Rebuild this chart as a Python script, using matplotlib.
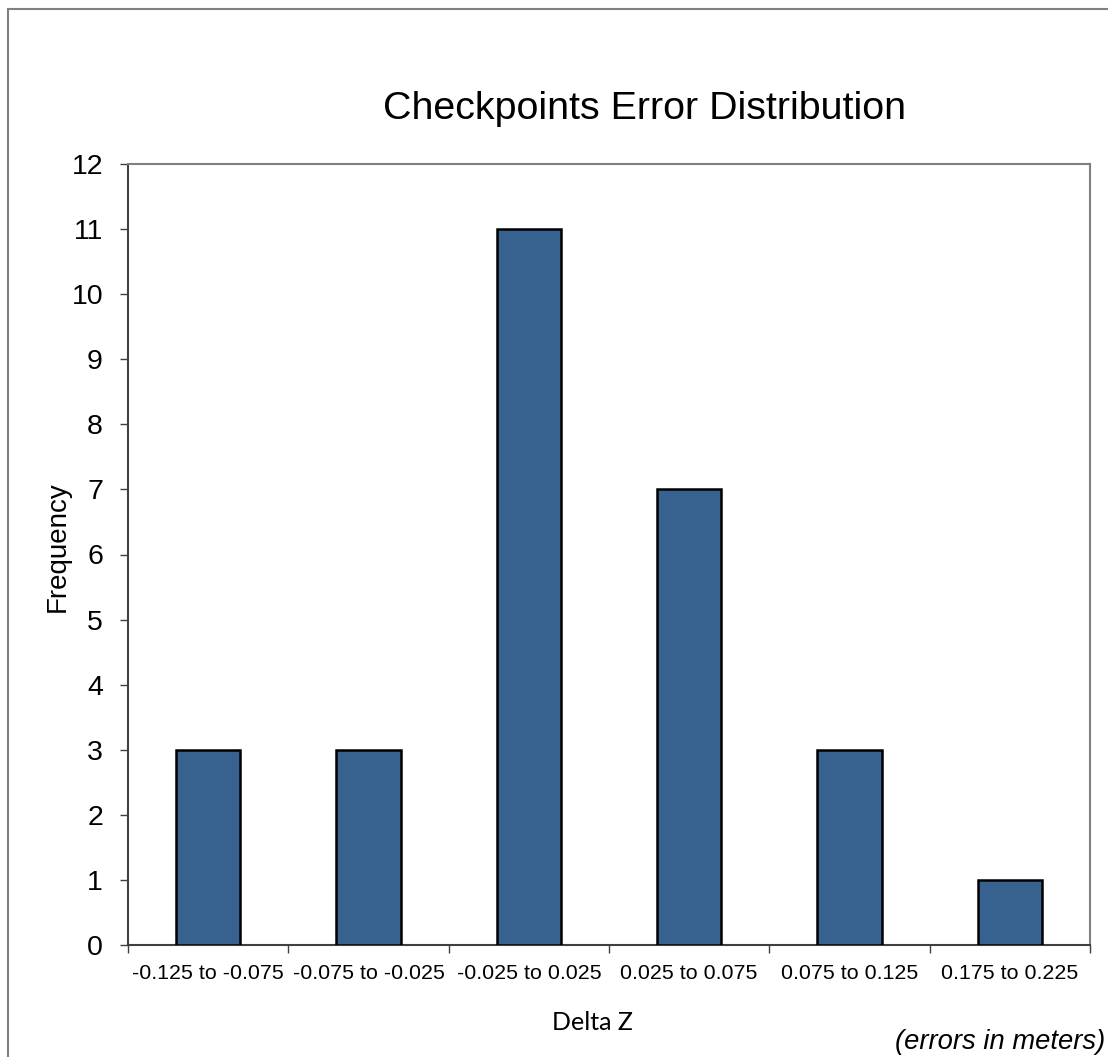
import matplotlib
matplotlib.use("Agg")
import matplotlib.pyplot as plt
from matplotlib.lines import Line2D
import numpy as np

categories = ["-0.125 to -0.075", "-0.075 to -0.025", "-0.025 to 0.025",
              "0.025 to 0.075", "0.075 to 0.125", "0.175 to 0.225"]
frequency = [3, 3, 11, 7, 3, 1]
y_ticks = list(range(0, 13))

plt.rcParams['font.family'] = ['Liberation Sans', 'DejaVu Sans']

fig = plt.figure(figsize=(11.08, 10.57), dpi=100)
ax = fig.add_axes([128/1108, 1-945/1057, (1090-128)/1108, (945-164)/1057])

x = np.arange(len(categories))
ax.bar(x, frequency, width=0.4, color="#37618f", edgecolor="black", linewidth=1.8, zorder=3)

ax.set_xlim(-0.5, len(categories) - 0.5)
ax.set_ylim(0, 12)
ax.set_yticks(y_ticks)
ax.set_yticklabels([str(v) for v in y_ticks], fontsize=20.5)
ax.tick_params(axis='y', length=6, width=1, color="#404040", pad=12)

ax.set_xticks(x)
ax.set_xticklabels(categories, fontsize=15.4)
ax.tick_params(axis='x', which='major', length=0, pad=14)
ax.set_xticks(np.arange(-0.5, len(categories)), minor=True)
ax.tick_params(axis='x', which='minor', length=6, width=1, color="#404040")

for s in ['top', 'right']:
    ax.spines[s].set_color("#808080")
    ax.spines[s].set_linewidth(1.5)
for s in ['left', 'bottom']:
    ax.spines[s].set_color("#404040")
    ax.spines[s].set_linewidth(1.5)

fig.text(645/1108, 1-109/1057, "Checkpoints Error Distribution", fontsize=28.4,
         ha='center', va='center')
fig.text(58/1108, 1-547/1057, "Frequency", fontsize=20, rotation=90,
         ha='center', va='center')
fig.text(592/1108, 1-1022/1057, "Delta Z", fontsize=18, family=['Lato', 'DejaVu Sans'],
         ha='center', va='center')
fig.text(1105/1108, 1-1042/1057, "(errors in meters)", fontsize=19.75, style='italic',
         ha='right', va='center')

fig.add_artist(Line2D([8/1108, 1.0], [1-9/1057, 1-9/1057], transform=fig.transFigure,
                      color="#808080", linewidth=1.5))
fig.add_artist(Line2D([8/1108, 8/1108], [0.0, 1-9/1057], transform=fig.transFigure,
                      color="#808080", linewidth=1.5))

fig.savefig("out.png", dpi=100, facecolor="white")
